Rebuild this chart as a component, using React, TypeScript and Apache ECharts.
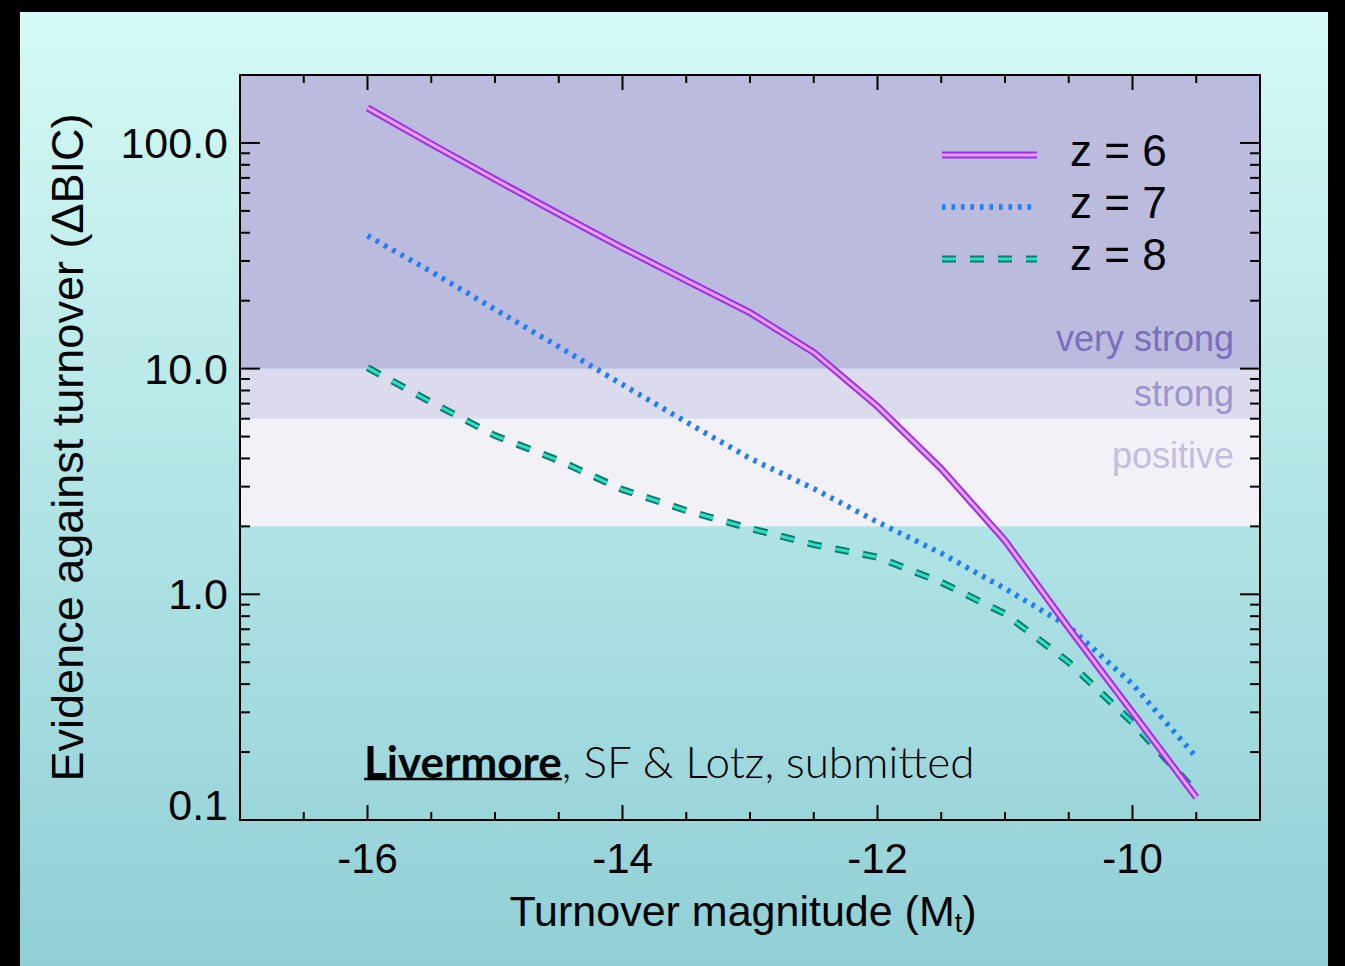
import { useEffect, useRef } from "react";
import * as echarts from "echarts";

// Turnover magnitude grid (M_t)
const magnitudes = [-16, -15.5, -15, -14.5, -14, -13.5, -13, -12.5, -12, -11.5, -11, -10.5, -10, -9.5];
// Evidence against a turnover (ΔBIC) at each redshift
const bicZ6 = [143, 99, 69, 48.5, 34.3, 24.6, 17.7, 11.8, 6.8, 3.6, 1.73, 0.71, 0.3, 0.126];
const bicZ7 = [38.8, 26.9, 18.3, 12.5, 8.5, 5.8, 4.0, 2.94, 2.09, 1.52, 1.06, 0.72, 0.4, 0.19];
const bicZ8 = [10.1, 7.1, 5.05, 3.92, 2.91, 2.35, 1.96, 1.66, 1.46, 1.13, 0.82, 0.5, 0.27, 0.133];

// Evidence strength bands (ΔBIC ranges)
const bandNames = ["very strong", "strong", "positive"];
const bandLower = [10, 6, 2];
const bandUpper = [200, 10, 6];

// Axis extents and ticks
const X_MIN = -17;
const X_MAX = -9;
const Y_MIN = 0.1;
const Y_MAX = 200;
const xMajorTicks = [-16, -14, -12, -10];
const xMinorTicks = [-16.5, -15.5, -15, -14.5, -13.5, -13, -12.5, -11.5, -11, -10.5, -9.5];
const yMajorTicks = [0.1, 1, 10, 100];
const yMinorTicks = [
  0.2, 0.3, 0.4, 0.5, 0.6, 0.7, 0.8, 0.9,
  2, 3, 4, 5, 6, 7, 8, 9,
  20, 30, 40, 50, 60, 70, 80, 90,
];

const legendLabels = ["z = 6", "z = 7", "z = 8"];
const creditBold = "Livermore";
const creditRest = ", SF & Lotz, submitted";

const SANS = '"Liberation Sans", Arial, Helvetica, sans-serif';
const CREDIT_FONT = 'Lato, "Noto Sans", sans-serif';

const bandFill = ["#bbbcdd", "#dcdbed", "#f3f1f8"];
const bandText = ["#7a6ebf", "#9d93cf", "#c2bee2"];
const bandLabelOffset = [117, 0, -17];

const Z6_OUTER = "#a02cf0";
const Z6_INNER = "#e3a2ea";
const Z7_COLOR = "#1f7bff";
const Z8_OUTER = "#0c7a6c";
const Z8_INNER = "#30e0c6";
const Z7_DASH = [3.5, 6];
const Z8_DASH = [14, 14];

function measure(text: string, font: string): number {
  const ctx = document.createElement("canvas").getContext("2d");
  if (!ctx) return text.length * 20;
  ctx.font = font;
  return ctx.measureText(text).width;
}

export default function App() {
  const ref = useRef<HTMLDivElement>(null);

  useEffect(() => {
    if (!ref.current) return;
    const chart = echarts.init(ref.current, undefined, { renderer: "svg" });

    const pairs = (ys: number[]) => magnitudes.map((m, i) => [m, ys[i]]);

    const tickData: number[][] = [
      ...xMajorTicks.map((v) => [v, Y_MIN, 15, 0]),
      ...xMinorTicks.map((v) => [v, Y_MIN, 8, 0]),
      ...yMajorTicks.map((v) => [X_MIN, v, 20, 1]),
      ...yMinorTicks.map((v) => [X_MIN, v, 10, 1]),
    ];

    const creditSize = 44;
    const boldWidth = measure(creditBold, `bold ${creditSize}px ${CREDIT_FONT}`);
    const creditX = 364;
    const creditY = 761;

    const legendY = [155, 207, 259];
    const legendX0 = 942;
    const legendX1 = 1037;
    const legendLine = (y: number, style: any) => ({
      type: "line",
      z: 30,
      silent: true,
      shape: { x1: legendX0, y1: y, x2: legendX1, y2: y },
      style,
    });

    const lineBase = {
      type: "line" as const,
      showSymbol: false,
      symbol: "none",
      silent: true,
      smooth: false,
    };

    chart.setOption({
      animation: false,
      backgroundColor: "#000",
      grid: {
        left: 240,
        top: 75,
        width: 1020,
        height: 745,
        outerBoundsMode: "none",
        containLabel: false,
      },
      xAxis: [
        {
          type: "value",
          min: X_MIN,
          max: X_MAX,
          interval: 1,
          position: "bottom",
          z: 10,
          axisLine: { show: true, onZero: false, lineStyle: { color: "#000", width: 2 } },
          axisTick: { show: false },
          splitLine: { show: false },
          axisLabel: {
            color: "#000",
            fontSize: 42,
            fontFamily: SANS,
            margin: 17,
            showMinLabel: true,
            showMaxLabel: true,
            formatter: (v: number) => (xMajorTicks.includes(Math.round(v)) ? String(Math.round(v)) : ""),
          },
          name: "{n|Turnover magnitude (M}{s|t}{n|)}",
          nameLocation: "middle",
          nameGap: 66,
          nameTextStyle: {
            padding: [0, 14, 0, 0],
            rich: {
              n: { fontSize: 43, fontFamily: SANS, color: "#000", lineHeight: 50 },
              s: { fontSize: 27, fontFamily: SANS, color: "#000", lineHeight: 20, verticalAlign: "bottom" },
            },
          },
        },
        {
          type: "value",
          min: X_MIN,
          max: X_MAX,
          position: "top",
          z: 10,
          axisLine: { show: true, onZero: false, lineStyle: { color: "#000", width: 2 } },
          axisTick: { show: false },
          axisLabel: { show: false },
          splitLine: { show: false },
        },
      ],
      yAxis: [
        {
          type: "log",
          logBase: 10,
          min: Y_MIN,
          max: Y_MAX,
          position: "left",
          z: 10,
          axisLine: { show: true, onZero: false, lineStyle: { color: "#000", width: 2 } },
          axisTick: { show: false },
          splitLine: { show: false },
          minorTick: { show: false },
          axisLabel: {
            color: "#000",
            fontSize: 43,
            fontFamily: SANS,
            margin: 12,
            showMaxLabel: false,
            formatter: (v: number) => (Math.abs(v - 0.1) < 1e-6 ? "{lo|0.1}" : v.toFixed(1)),
            rich: {
              lo: { fontSize: 43, fontFamily: SANS, color: "#000", padding: [0, 0, 30, 0] },
            },
          },
          name: "Evidence against turnover (ΔBIC)",
          nameLocation: "middle",
          nameGap: 150,
          nameTextStyle: { fontSize: 45, fontFamily: SANS, color: "#000" },
        },
        {
          type: "log",
          logBase: 10,
          min: Y_MIN,
          max: Y_MAX,
          position: "right",
          z: 10,
          axisLine: { show: true, onZero: false, lineStyle: { color: "#000", width: 2 } },
          axisTick: { show: false },
          axisLabel: { show: false },
          splitLine: { show: false },
        },
      ],
      series: [
        {
          // evidence bands
          type: "line",
          data: [],
          silent: true,
          markArea: {
            silent: true,
            z: 1,
            data: bandNames.map((name, i) => [
              {
                name,
                yAxis: bandLower[i],
                itemStyle: { color: bandFill[i], opacity: 1 },
                label: {
                  show: true,
                  position: "insideRight",
                  distance: 26,
                  offset: [0, bandLabelOffset[i]],
                  color: bandText[i],
                  fontSize: 36,
                  fontFamily: SANS,
                },
              },
              { yAxis: bandUpper[i] },
            ]),
          },
        },
        {
          ...lineBase,
          name: "z = 8",
          z: 3,
          data: pairs(bicZ8),
          lineStyle: { color: Z8_OUTER, width: 7, type: Z8_DASH },
        },
        {
          ...lineBase,
          name: "z = 8 inner",
          z: 3,
          data: pairs(bicZ8),
          lineStyle: { color: Z8_INNER, width: 3, type: Z8_DASH },
        },
        {
          ...lineBase,
          name: "z = 7",
          z: 4,
          data: pairs(bicZ7),
          lineStyle: { color: Z7_COLOR, width: 5.5, type: Z7_DASH },
        },
        {
          ...lineBase,
          name: "z = 6",
          z: 5,
          data: pairs(bicZ6),
          lineStyle: { color: Z6_OUTER, width: 7, join: "round" },
        },
        {
          ...lineBase,
          name: "z = 6 inner",
          z: 5,
          data: pairs(bicZ6),
          lineStyle: { color: Z6_INNER, width: 3, join: "round" },
        },
        {
          // axis ticks on all four sides, placed through the axis scales
          type: "custom",
          z: 11,
          silent: true,
          clip: false,
          data: tickData,
          renderItem: (_params: any, api: any) => {
            const x = api.value(0);
            const y = api.value(1);
            const len = api.value(2);
            const isY = api.value(3) === 1;
            const style = { stroke: "#000", lineWidth: 2 };
            if (!isY) {
              const b = api.coord([x, Y_MIN]);
              const t = api.coord([x, Y_MAX]);
              return {
                type: "group",
                children: [
                  { type: "line", shape: { x1: b[0], y1: b[1], x2: b[0], y2: b[1] - len }, style },
                  { type: "line", shape: { x1: t[0], y1: t[1], x2: t[0], y2: t[1] + len }, style },
                ],
              };
            }
            const l = api.coord([X_MIN, y]);
            const r = api.coord([X_MAX, y]);
            return {
              type: "group",
              children: [
                { type: "line", shape: { x1: l[0], y1: l[1], x2: l[0] + len, y2: l[1] }, style },
                { type: "line", shape: { x1: r[0], y1: r[1], x2: r[0] - len, y2: r[1] }, style },
              ],
            };
          },
        },
      ],
      graphic: [
        {
          type: "rect",
          z: -100,
          silent: true,
          shape: { x: 20, y: 12, width: 1308, height: 960 },
          style: {
            fill: new echarts.graphic.LinearGradient(0, 0, 0, 1, [
              { offset: 0, color: "#d5faf5" },
              { offset: 1, color: "#90cfd6" },
            ]),
          },
        },
        // legend
        legendLine(legendY[0], { stroke: Z6_OUTER, lineWidth: 7 }),
        legendLine(legendY[0], { stroke: Z6_INNER, lineWidth: 3 }),
        legendLine(legendY[1], { stroke: Z7_COLOR, lineWidth: 5.5, lineDash: Z7_DASH }),
        legendLine(legendY[2], { stroke: Z8_OUTER, lineWidth: 7, lineDash: Z8_DASH }),
        legendLine(legendY[2], { stroke: Z8_INNER, lineWidth: 3, lineDash: Z8_DASH }),
        ...legendLabels.map((label, i) => ({
          type: "text",
          z: 30,
          silent: true,
          x: 1070,
          y: legendY[i] - 5,
          style: {
            text: label,
            fill: "#000",
            font: `44px ${SANS}`,
            textAlign: "left",
            textVerticalAlign: "middle",
          },
        })),
        // credit line
        {
          type: "text",
          z: 30,
          silent: true,
          x: creditX,
          y: creditY,
          style: {
            text: creditBold,
            fill: "#000",
            font: `bold ${creditSize}px ${CREDIT_FONT}`,
            textAlign: "left",
            textVerticalAlign: "middle",
          },
        },
        {
          type: "line",
          z: 30,
          silent: true,
          shape: { x1: creditX, y1: creditY + 18, x2: creditX + boldWidth, y2: creditY + 18 },
          style: { stroke: "#000", lineWidth: 2.5 },
        },
        {
          type: "text",
          z: 30,
          silent: true,
          x: creditX + boldWidth,
          y: creditY,
          style: {
            text: creditRest,
            fill: "#000",
            font: `300 ${creditSize}px ${CREDIT_FONT}`,
            textAlign: "left",
            textVerticalAlign: "middle",
          },
        },
      ],
    });

    return () => chart.dispose();
  }, []);

  return (
    <div
      ref={ref}
      style={{ position: "fixed", left: 0, top: 0, width: 1345, height: 966 }}
    />
  );
}
